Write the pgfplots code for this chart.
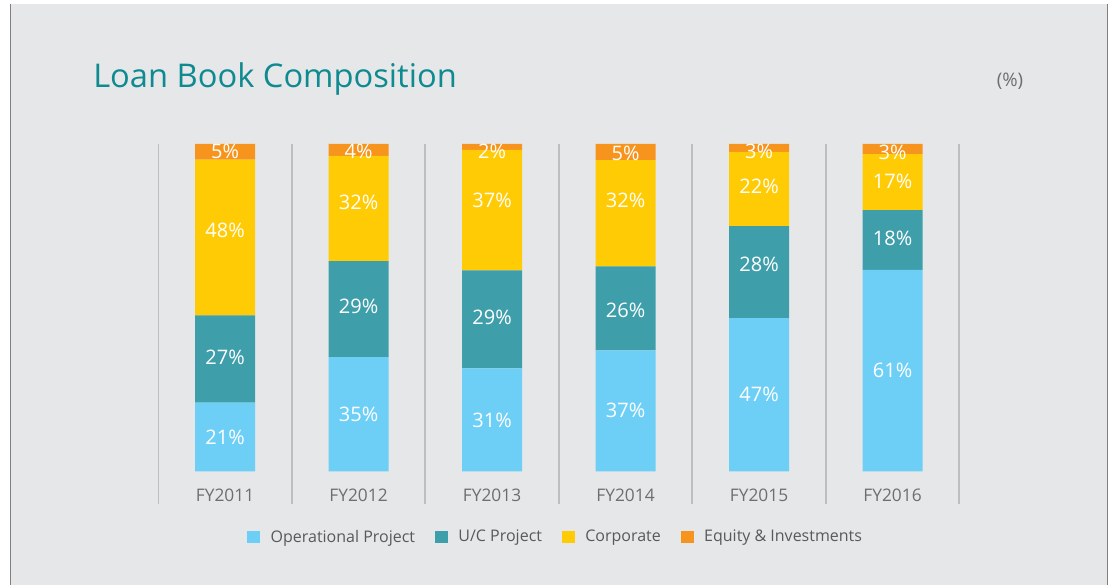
\documentclass[border=0pt]{standalone}
\usepackage{pgfplots}
\pgfplotsset{compat=1.18}
\usepackage{pgfplotstable}
\usepackage{fontspec}
\setmainfont{Open Sans}
\definecolor{bgc}{HTML}{E6E7E9}
\definecolor{opc}{HTML}{6DCFF6}
\definecolor{ucc}{HTML}{3E9FAB}
\definecolor{coc}{HTML}{FFCB05}
\definecolor{eqc}{HTML}{F7941D}
\definecolor{titc}{HTML}{0E8A91}
\definecolor{sepc}{HTML}{BDBEC0}
\definecolor{labc}{HTML}{6D6E71}
\definecolor{legc}{HTML}{58595B}
\definecolor{brd}{HTML}{808080}

\pgfplotstableread{
x op uc co eq
0 21.0 26.6 47.6 4.8
1 34.9 29.3 32.2 3.6
2 31.4 30.0 36.8 1.8
3 36.9 25.7 32.5 4.9
4 46.8 28.1 22.7 2.4
5 61.5 18.3 17.1 3.1
}\bars

\pgfplotstableread{
x y v
0 10.4 21
0 34.9 27
0 73.7 48
0 97.6 5
1 17.5 35
1 50.5 29
1 82.3 32
1 97.9 4
2 15.7 31
2 47.1 29
2 82.9 37
2 97.6 2
3 18.7 37
3 49.3 26
3 82.9 32
3 97.0 5
4 23.6 47
4 63.1 28
4 87.2 22
4 97.9 3
5 30.7 61
5 71.3 18
5 88.7 17
5 97.3 3
}\labs

\begin{document}
\begin{tikzpicture}
\fill[white] (0,0) rectangle (831pt,438.75pt);
\fill[bgc] (7.5pt,0) rectangle (831pt,435.75pt);
\draw[brd, line width=0.75pt] (7.875pt,0) -- (7.875pt,435.75pt);
\draw[brd, line width=0.75pt] (830.6pt,0) -- (830.6pt,435.75pt);

\node[anchor=base west, inner sep=0pt, text=titc, font=\fontsize{24.5}{30}\selectfont] at (69.75pt,372.75pt) {Loan Book Composition};
\node[inner sep=0pt, text=labc, font=\fontsize{14}{16}\selectfont] at (757.5pt,377.5pt) {(\%)};

\begin{axis}[
  at={(118.725pt,60.75pt)}, anchor=south west,
  scale only axis, width=600.75pt, height=270pt,
  xmin=-0.5, xmax=5.5, ymin=-10, ymax=100,
  ybar stacked, bar width=0.45,
  axis line style={draw=none},
  xtick={0,1,2,3,4,5},
  xticklabels={FY2011,FY2012,FY2013,FY2014,FY2015,FY2016},
  minor xtick={-0.5,0.5,1.5,2.5,3.5,4.5,5.5},
  xminorgrids, minor grid style={sepc, line width=1.2pt},
  ytick=\empty, major tick length=0pt, minor tick length=0pt,
  xticklabel style={font=\fontsize{13}{15}\selectfont, text=labc, anchor=center, yshift=6.5pt},
  clip=false,
  legend columns=4,
  legend image code/.code={\fill[#1] (0pt,-4.75pt) rectangle (9.5pt,4.75pt);},
  legend style={at={(0.4965,-0.0915)}, anchor=center, draw=none, fill=none,
    font=\fontsize{12}{14}\selectfont, text=legc,
    /tikz/every odd column/.append style={column sep=6pt},
    /tikz/every even column/.append style={column sep=13pt}},
]
\addplot[fill=opc, draw=none] table[x=x, y=op]{\bars};
\addplot[fill=ucc, draw=none] table[x=x, y=uc]{\bars};
\addplot[fill=coc, draw=none] table[x=x, y=co]{\bars};
\addplot[fill=eqc, draw=none] table[x=x, y=eq]{\bars};
\legend{Operational Project, U/C Project, Corporate, Equity \& Investments}
\end{axis}

\begin{axis}[
  at={(118.725pt,60.75pt)}, anchor=south west,
  scale only axis, width=600.75pt, height=270pt,
  xmin=-0.5, xmax=5.5, ymin=-10, ymax=100,
  hide axis, clip=true,
]
\addplot[draw=none, mark=none,
  point meta=explicit symbolic,
  nodes near coords={\pgfplotspointmeta\%},
  nodes near coords align={center},
  every node near coord/.append style={text=white, inner sep=0pt, font=\fontsize{15}{18}\selectfont}]
  table[x=x, y=y, meta=v]{\labs};
\end{axis}
\end{tikzpicture}
\end{document}
